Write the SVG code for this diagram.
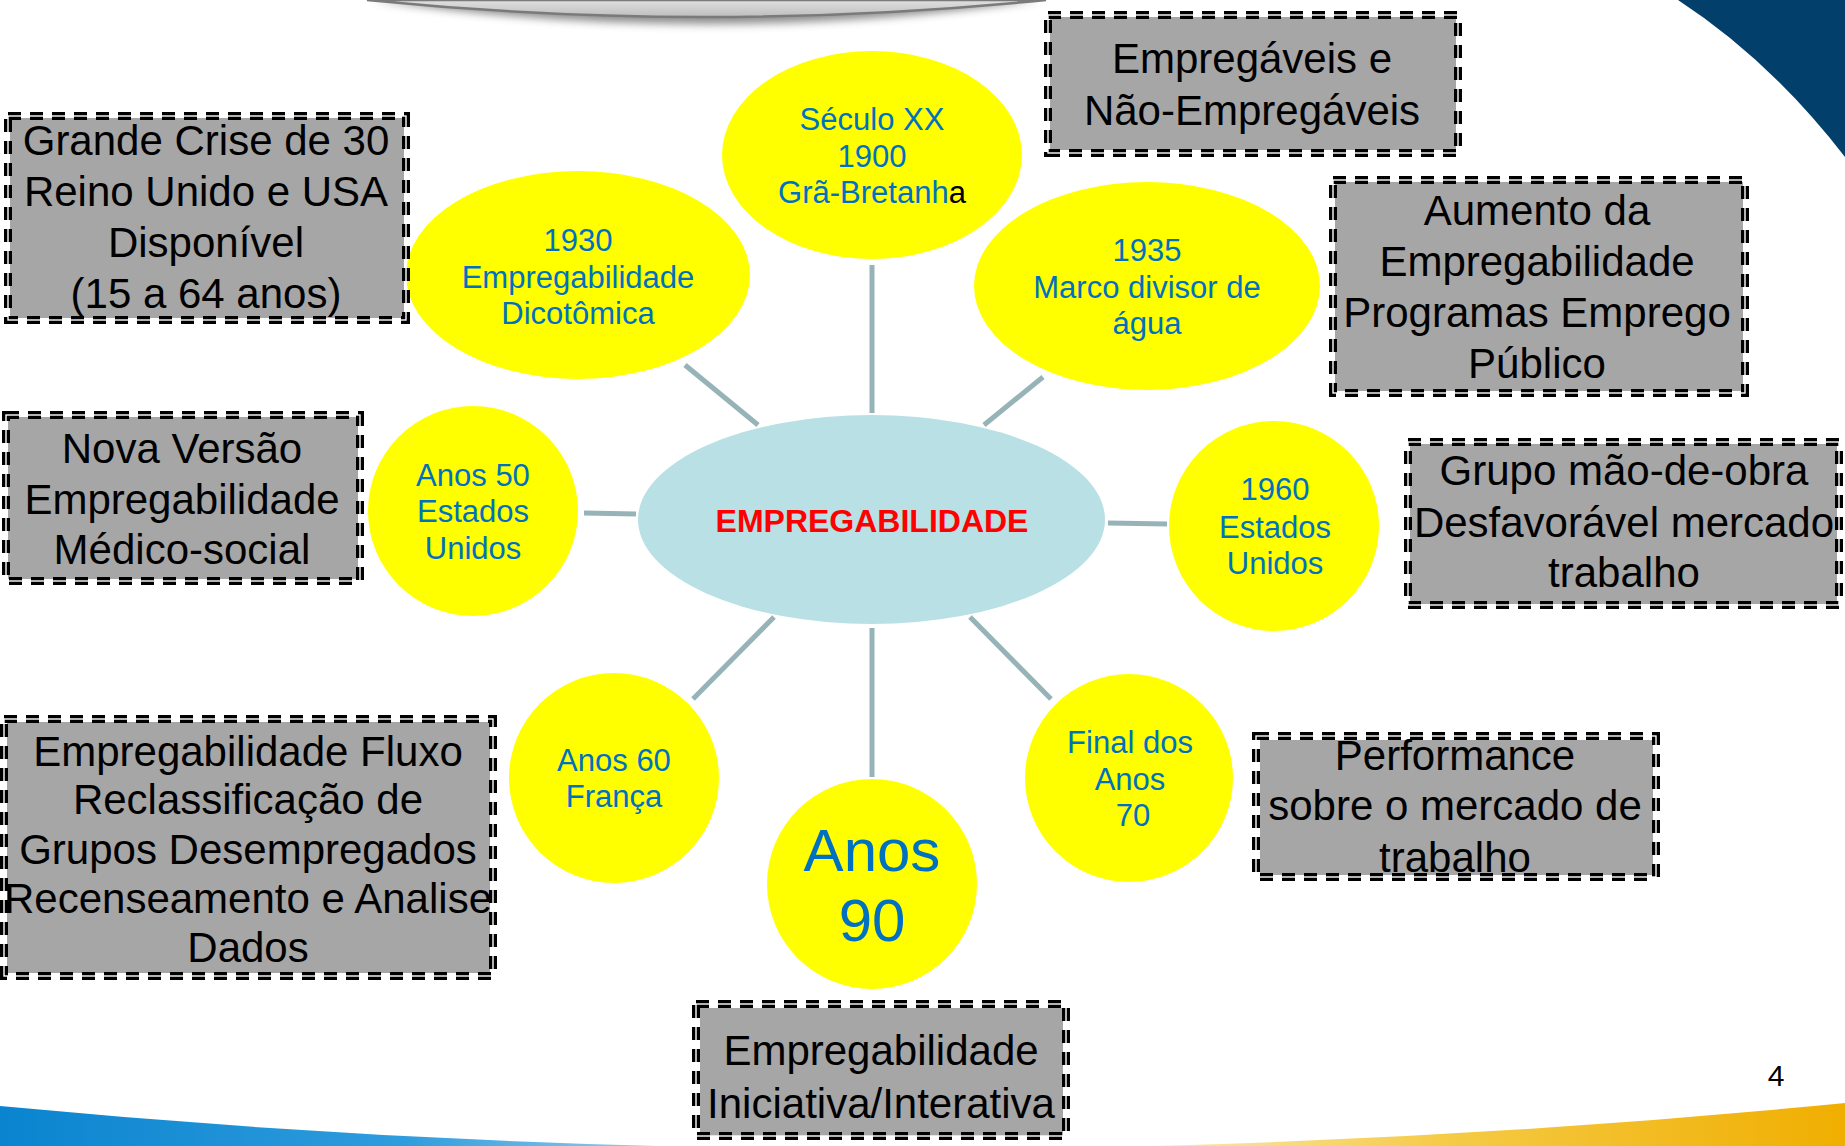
<svg xmlns="http://www.w3.org/2000/svg" width="1845" height="1146" viewBox="0 0 1845 1146">
<defs>
<linearGradient id="hdr" x1="0" y1="0" x2="0" y2="1">
<stop offset="0" stop-color="#e0e0e0"/>
<stop offset="1" stop-color="#bdbdbd"/>
</linearGradient>
<linearGradient id="band" x1="0" y1="0" x2="1" y2="0">
<stop offset="0" stop-color="#0a84cf"/>
<stop offset="0.22" stop-color="#2f9cdd"/>
<stop offset="0.5" stop-color="#ffffff"/>
<stop offset="0.78" stop-color="#f5cb48"/>
<stop offset="1" stop-color="#f0ae00"/>
</linearGradient>
<filter id="sh" x="-10%" y="-50%" width="120%" height="250%">
<feGaussianBlur stdDeviation="4"/>
</filter>
</defs>
<style>
.box{fill:#a6a6a6;}
.bd{fill:none;stroke:#000;stroke-width:8;stroke-dasharray:13 9;}
.bw{fill:none;stroke:#fff;stroke-width:1.4;}
.bt{font-family:"Liberation Sans",Arial,sans-serif;font-size:42px;fill:#000;text-anchor:middle;}
.yel{fill:#ffff00;}
.yt{font-family:"Liberation Sans",Arial,sans-serif;font-size:31px;fill:#0070c0;text-anchor:middle;}
.con{stroke:#96b3b7;stroke-width:5;fill:none;}
</style>
<rect width="1845" height="1146" fill="#ffffff"/>
<!-- header arc -->
<path d="M372 0 Q705 48 1040 0 Z" fill="#666" filter="url(#sh)" opacity="0.75"/>
<path d="M367 0 Q705 34 1046 0 Z" fill="url(#hdr)" stroke="#7a7a7a" stroke-width="2.5"/>
<!-- top-right swoosh -->
<path d="M1678 0 Q1770 60 1845 157 L1845 0 Z" fill="#033f6b"/>
<!-- bottom band -->
<path d="M0 1106 Q920 1194 1845 1103 L1845 1146 L0 1146 Z" fill="url(#band)"/>
<text x="1776" y="1086" font-family="Liberation Sans,Arial,sans-serif" font-size="30" fill="#000" text-anchor="middle">4</text>

<g id="connectors">
<line class="con" x1="872" y1="265" x2="872" y2="413"/>
<line class="con" x1="685" y1="365" x2="758" y2="425"/>
<line class="con" x1="1043" y1="377" x2="984" y2="425"/>
<line class="con" x1="584" y1="513" x2="636" y2="514"/>
<line class="con" x1="1108" y1="523" x2="1167" y2="524"/>
<line class="con" x1="774" y1="617" x2="693" y2="699"/>
<line class="con" x1="872" y1="628" x2="872" y2="777"/>
<line class="con" x1="970" y1="617" x2="1051" y2="699"/>
</g>

<g id="center">
<ellipse cx="871.5" cy="519.5" rx="233.5" ry="104.5" fill="#b9e0e4"/>
<text x="872" y="532" font-family="Liberation Sans,Arial,sans-serif" font-size="32" font-weight="bold" fill="#ff0000" text-anchor="middle">EMPREGABILIDADE</text>
</g>

<g id="n-seculo">
<ellipse class="yel" cx="872" cy="155" rx="150" ry="104"/>
<text class="yt"><tspan x="872" y="130">Século XX</tspan><tspan x="872" y="167">1900</tspan><tspan x="872" y="203">Grã-Bretanh<tspan fill="#000">a</tspan></tspan></text>
</g>
<g id="n-1930">
<ellipse class="yel" cx="578" cy="275" rx="172" ry="104"/>
<text class="yt"><tspan x="578" y="251">1930</tspan><tspan x="578" y="288">Empregabilidade</tspan><tspan x="578" y="324">Dicotômica</tspan></text>
</g>
<g id="n-1935">
<ellipse class="yel" cx="1147" cy="286" rx="173" ry="104"/>
<text class="yt"><tspan x="1147" y="261">1935</tspan><tspan x="1147" y="298">Marco divisor de</tspan><tspan x="1147" y="334">água</tspan></text>
</g>
<g id="n-anos50">
<circle class="yel" cx="473" cy="511" r="105"/>
<text class="yt"><tspan x="473" y="486">Anos 50</tspan><tspan x="473" y="522">Estados</tspan><tspan x="473" y="559">Unidos</tspan></text>
</g>
<g id="n-1960">
<circle class="yel" cx="1274" cy="526" r="105"/>
<text class="yt"><tspan x="1275" y="500">1960</tspan><tspan x="1275" y="538">Estados</tspan><tspan x="1275" y="574">Unidos</tspan></text>
</g>
<g id="n-anos60">
<circle class="yel" cx="614" cy="778" r="105"/>
<text class="yt"><tspan x="614" y="771">Anos 60</tspan><tspan x="614" y="807">França</tspan></text>
</g>
<g id="n-anos90">
<circle class="yel" cx="872" cy="884" r="105"/>
<text font-family="Liberation Sans,Arial,sans-serif" font-size="60" fill="#0070c0" text-anchor="middle"><tspan x="872" y="871">Anos</tspan><tspan x="872" y="941">90</tspan></text>
</g>
<g id="n-final70">
<circle class="yel" cx="1129" cy="778" r="104"/>
<text class="yt"><tspan x="1130" y="753">Final dos</tspan><tspan x="1130" y="790">Anos</tspan><tspan x="1133" y="826">70</tspan></text>
</g>

<g id="b-grande-crise">
<rect class="box" x="10" y="118" width="394" height="200"/>
<rect class="bd" x="8" y="116" width="398" height="204"/>
<rect class="bw" x="8" y="116" width="398" height="204"/>
<text class="bt"><tspan x="206" y="155">Grande Crise de 30</tspan><tspan x="206" y="206">Reino Unido e USA</tspan><tspan x="206" y="257">Disponível</tspan><tspan x="206" y="308">(15 a 64 anos)</tspan></text>
</g>
<g id="b-empregaveis">
<rect class="box" x="1050" y="17" width="406" height="133"/>
<rect class="bd" x="1048" y="15" width="410" height="138"/>
<rect class="bw" x="1048" y="15" width="410" height="138"/>
<text class="bt"><tspan x="1252" y="73">Empregáveis e</tspan><tspan x="1252" y="125">Não-Empregáveis</tspan></text>
</g>
<g id="b-aumento">
<rect class="box" x="1335" y="182" width="408" height="209"/>
<rect class="bd" x="1333" y="180" width="412" height="213"/>
<rect class="bw" x="1333" y="180" width="412" height="213"/>
<text class="bt"><tspan x="1537" y="225">Aumento da</tspan><tspan x="1537" y="276">Empregabilidade</tspan><tspan x="1537" y="327">Programas Emprego</tspan><tspan x="1537" y="378">Público</tspan></text>
</g>
<g id="b-nova-versao">
<rect class="box" x="8" y="417" width="350" height="162"/>
<rect class="bd" x="6" y="415" width="354" height="166"/>
<rect class="bw" x="6" y="415" width="354" height="166"/>
<text class="bt"><tspan x="182" y="463">Nova Versão</tspan><tspan x="182" y="514">Empregabilidade</tspan><tspan x="182" y="564">Médico-social</tspan></text>
</g>
<g id="b-grupo">
<rect class="box" x="1410" y="444" width="427" height="160"/>
<rect class="bd" x="1408" y="442" width="431" height="163"/>
<rect class="bw" x="1408" y="442" width="431" height="163"/>
<text class="bt"><tspan x="1624" y="485">Grupo mão-de-obra</tspan><tspan x="1624" y="537">Desfavorável mercado</tspan><tspan x="1624" y="587">trabalho</tspan></text>
</g>
<g id="b-performance">
<rect class="box" x="1260" y="740" width="393" height="135"/>
<rect class="bd" x="1256" y="736" width="400" height="141"/>
<rect class="bw" x="1256" y="736" width="400" height="141"/>
<text class="bt"><tspan x="1455" y="770">Performance</tspan><tspan x="1455" y="820">sobre o mercado de</tspan><tspan x="1455" y="872">trabalho</tspan></text>
</g>
<g id="b-fluxo">
<rect class="box" x="7" y="722" width="483" height="251"/>
<rect class="bd" x="4" y="719" width="489" height="257"/>
<rect class="bw" x="4" y="719" width="489" height="257"/>
<text class="bt"><tspan x="248" y="766">Empregabilidade Fluxo</tspan><tspan x="248" y="814">Reclassificação de</tspan><tspan x="248" y="864">Grupos Desempregados</tspan><tspan x="248" y="913">Recenseamento e Analise</tspan><tspan x="248" y="962">Dados</tspan></text>
</g>
<g id="b-iniciativa">
<rect class="box" x="700" y="1008" width="363" height="128"/>
<rect class="bd" x="696" y="1004" width="370" height="132"/>
<rect class="bw" x="696" y="1004" width="370" height="132"/>
<text class="bt"><tspan x="881" y="1065">Empregabilidade</tspan><tspan x="881" y="1118">Iniciativa/Interativa</tspan></text>
</g>
</svg>
